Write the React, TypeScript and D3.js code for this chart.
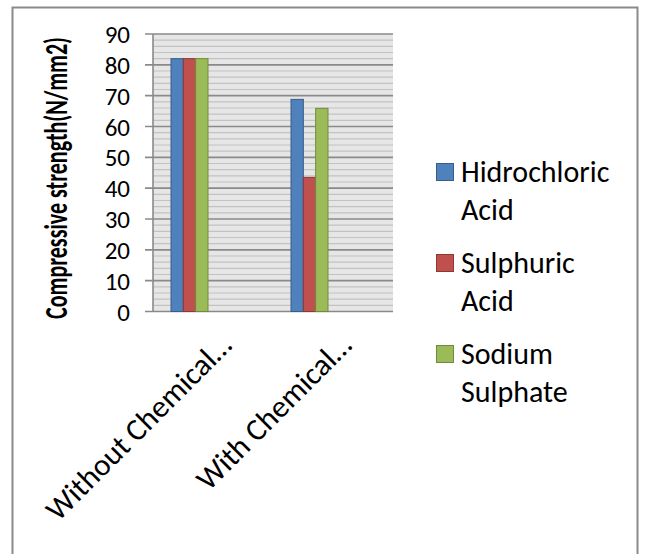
import React from "react";
import * as d3 from "d3";

const categories = ["Without Chemical…", "With Chemical…"];
const seriesNames = ["Hidrochloric Acid", "Sulphuric Acid", "Sodium Sulphate"];
const legendLines = [["Hidrochloric", "Acid"], ["Sulphuric", "Acid"], ["Sodium", "Sulphate"]];
const hclValues = [82, 68.8];
const h2so4Values = [82, 43.5];
const na2so4Values = [82, 65.9];
const yTicks = [0, 10, 20, 30, 40, 50, 60, 70, 80, 90];
const yTitle = "Compressive strength(N/mm2)";

const fills = ["#4F81BD", "#C0504D", "#9BBB59"];
const strokes = ["#385D8A", "#8C3836", "#71893F"];

const W = 645, H = 554;
const plot = { left: 153, right: 393, top: 34, bottom: 311.5 };
const font = "Calibri, Carlito, Lato, sans-serif";

export default function App() {
  const values = [hclValues, h2so4Values, na2so4Values];
  const y = d3.scaleLinear().domain([0, 90]).range([plot.bottom, plot.top]);
  const x = d3.scaleBand().domain(categories).range([plot.left - 23.5, plot.right - 23.5]);
  const groupW = 37;
  const xs = d3.scaleBand().domain(seriesNames).range([0, groupW]);
  const minor = d3.range(0, 90, 2).filter((v) => v % 10 !== 0);

  return (
    <svg width={W} height={H} style={{ position: "absolute", left: 0, top: 0, background: "#fff" }}>
      <rect x={12.5} y={7.5} width={625} height={580} fill="#fff" stroke="#8a8a8a" strokeWidth={2} />
      <rect x={plot.left} y={plot.top} width={plot.right - plot.left} height={plot.bottom - plot.top} fill="#e6e6e6" />
      {minor.map((v) => (
        <line key={"m" + v} x1={plot.left} x2={plot.right} y1={y(v)} y2={y(v)} stroke="#c2c2c2" strokeWidth={1.2} />
      ))}
      {yTicks.map((v) => (
        <line key={"g" + v} x1={plot.left - 8} x2={plot.right} y1={y(v)} y2={y(v)} stroke="#8a8a8a" strokeWidth={1.6} />
      ))}
      <line x1={plot.left} x2={plot.left} y1={plot.top} y2={plot.bottom} stroke="#8a8a8a" strokeWidth={1.6} />
      {yTicks.map((v) => (
        <text key={"t" + v} x={130} y={y(v)} dy="0.36em" textAnchor="end" fontFamily={font} fontSize={25} fill="#000">
          {v}
        </text>
      ))}
      {categories.map((c, ci) =>
        values.map((vals, si) => {
          const bx = (x(c) as number) + x.bandwidth() / 2 - groupW / 2 + (xs(seriesNames[si]) as number);
          return (
            <rect key={c + si} x={bx} y={y(vals[ci])} width={xs.bandwidth()} height={y(0) - y(vals[ci])}
              fill={fills[si]} stroke={strokes[si]} strokeWidth={1} />
          );
        })
      )}
      {categories.map((c) => {
        const cx = (x(c) as number) + x.bandwidth() / 2 + 44;
        return (
          <text key={"x" + c} transform={`translate(${cx},347) rotate(-45)`} textAnchor="end" fontFamily={font} fontSize={31} fill="#000">
            {c}
          </text>
        );
      })}
      <text transform={`translate(67,178) rotate(-90) scale(1,1.45)`} textAnchor="middle" fontFamily={font} fontSize={22} fontWeight="bold" fill="#000">
        {yTitle}
      </text>
      {legendLines.map((lines, i) => (
        <g key={"l" + i} transform={`translate(436,${163 + i * 91})`}>
          <rect x={0.5} y={0.5} width={17} height={17} fill={fills[i]} stroke={strokes[i]} strokeWidth={1} />
          {lines.map((ln, k) => (
            <text key={k} x={25} y={18.5 + k * 38} fontFamily={font} fontSize={30} fill="#000">{ln}</text>
          ))}
        </g>
      ))}
    </svg>
  );
}
